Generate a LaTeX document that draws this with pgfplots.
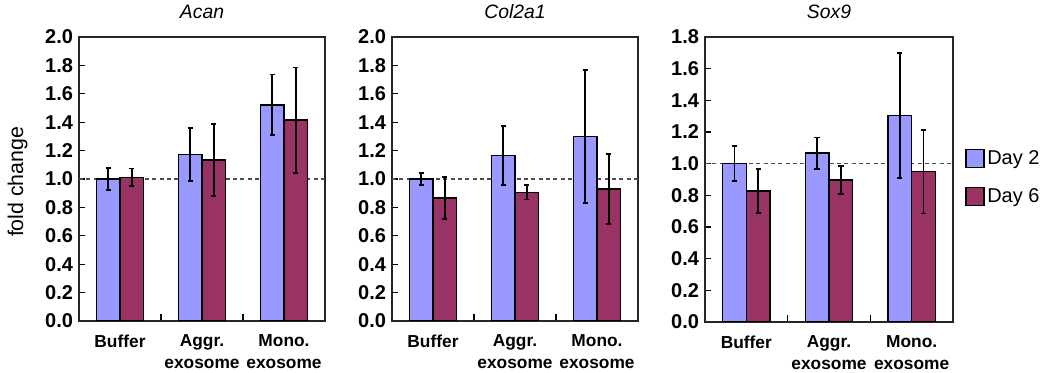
\documentclass[border=0pt]{standalone}
\usepackage{pgfplots}
\pgfplotsset{compat=1.18}
\usepackage{pgfplotstable}
\usepackage{fontspec}
\setmainfont{Liberation Sans}
\definecolor{dtwo}{HTML}{9999FF}
\definecolor{dsix}{HTML}{993366}

\pgfplotstableread{
x y e
0 1.000 0.077
1 1.174 0.187
2 1.522 0.213
}\acanA
\pgfplotstableread{
x y e
0 1.012 0.062
1 1.134 0.254
2 1.414 0.372
}\acanB
\pgfplotstableread{
x y e
0 1.000 0.042
1 1.165 0.207
2 1.301 0.468
}\colA
\pgfplotstableread{
x y e
0 0.866 0.148
1 0.906 0.050
2 0.929 0.245
}\colB
\pgfplotstableread{
x y e
0 1.000 0.110
1 1.066 0.098
2 1.305 0.395
}\soxA
\pgfplotstableread{
x y e
0 0.828 0.140
1 0.896 0.088
2 0.949 0.264
}\soxB

\tikzset{refline/.style={line width=0.8pt, black!70, dash pattern=on 3pt off 2.5pt}}
\pgfplotsset{
 panel/.style={
  scale only axis, width=184.5pt, height=213pt,
  ymin=0, xmin=-0.5, xmax=2.5,
  ybar=0pt, bar width=0.287,
  axis line style={line width=1pt, black!85},
  xtick={0,1,2}, xticklabels={Buffer,{Aggr.\\exosome},{Mono.\\exosome}},
  minor xtick={0.5,1.5},
  major x tick style={draw=none},
  minor tick length=5pt,
  major tick length=4.5pt,
  tick align=inside, xtick pos=bottom, ytick pos=left,
  tick style={line width=1pt, black},
  xticklabel style={font=\fontsize{13}{16.5}\selectfont\bfseries, align=center, yshift=-7pt},
  yticklabel style={font=\fontsize{15}{15}\selectfont\bfseries, xshift=-1pt},
  /pgf/number format/.cd, fixed, fixed zerofill, precision=1, assume math mode=true, /pgfplots/.cd,
  title style={font=\fontsize{14.5}{14.5}\selectfont\itshape, yshift=4.5pt},
  error bars/error bar style={line width=1.3pt, black},
  error bars/error mark options={rotate=90, line width=1.2pt, mark size=2pt, black},
 },
 bars/.style={draw=black, line width=1.1pt, fill=#1,
  error bars/y dir=both, error bars/y explicit},
}

\begin{document}
\begin{tikzpicture}
\useasboundingbox (0,0) rectangle (780pt,279.75pt);
% Acan
\begin{axis}[panel, at={(59.25pt,39pt)}, anchor=south west,
  ymax=2.0, ytick={0,0.2,...,2.01}, title={Acan},
  ylabel={\fontsize{16}{16}\selectfont fold change},
  ylabel style={at={(axis description cs:-0.25,0.49)}, anchor=center}]
\draw[refline] (axis cs:-0.5,1) -- (axis cs:2.5,1);
\addplot[bars=dtwo] table[x=x, y=y, y error=e] {\acanA};
\addplot[bars=dsix] table[x=x, y=y, y error=e] {\acanB};
\end{axis}
% Col2a1
\begin{axis}[panel, at={(294pt,39pt)}, anchor=south west,
  ymax=2.0, ytick={0,0.2,...,2.01}, title={Col2a1}]
\draw[refline] (axis cs:-0.5,1) -- (axis cs:2.5,1);
\addplot[bars=dtwo] table[x=x, y=y, y error=e] {\colA};
\addplot[bars=dsix] table[x=x, y=y, y error=e] {\colB};
\end{axis}
% Sox9
\begin{axis}[panel, at={(528.75pt,38.25pt)}, anchor=south west,
  width=186pt, height=213.75pt,
  ymax=1.8, ytick={0,0.2,...,1.81}, title={Sox9},
  legend style={at={(1,0.5)}, anchor=west, xshift=6pt, yshift=1.5pt, draw=none, fill=none,
    font=\fontsize{15}{15}\selectfont, row sep=13pt, cells={anchor=west}},
  legend image code/.code={\draw[#1, line width=1pt] (0pt,-6.75pt) rectangle (13.5pt,6.75pt);}]
\draw[refline] (axis cs:-0.5,1) -- (axis cs:2.5,1);
\addplot[bars=dtwo] table[x=x, y=y, y error=e] {\soxA};
\addlegendentry{Day 2}
\addplot[bars=dsix] table[x=x, y=y, y error=e] {\soxB};
\addlegendentry{Day 6}
\end{axis}
\end{tikzpicture}
\end{document}
